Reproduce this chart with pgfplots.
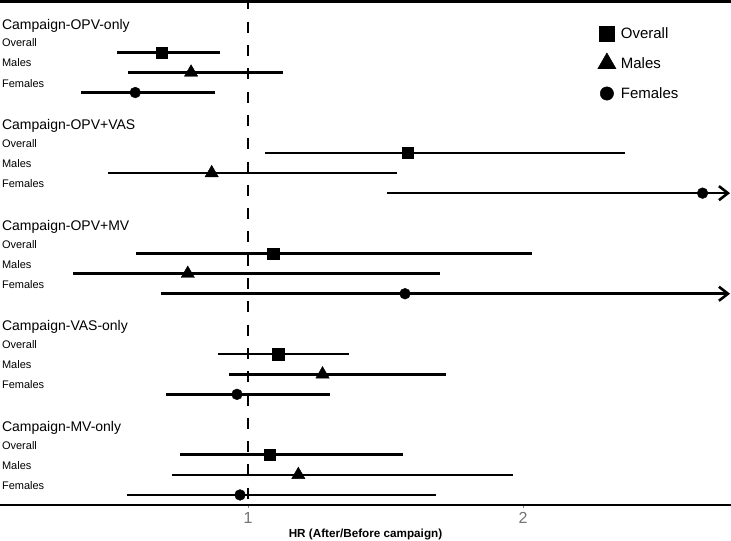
\documentclass[border=0pt]{standalone}
\usepackage{pgfplots}
\pgfplotsset{compat=1.18}
\usepackage{pgfplotstable}
\usepackage{fontspec}
\setmainfont{Liberation Sans}
\usetikzlibrary{arrows.meta}

% row = line index from top (group g: rows 5g+1, 5g+2, 5g+3)
\pgfplotstableread{
row hr lo hi
1 0.687 0.5225 0.898
6 1.581 1.063 2.371
11 1.092 0.593 2.032
16 1.110 0.892 1.368
21 1.080 0.753 1.564
}\overall
\pgfplotstableread{
row hr lo hi
2 0.793 0.5625 1.128
7 0.868 0.492 1.541
12 0.781 0.3625 1.700
17 1.271 0.931 1.720
22 1.183 0.7225 1.964
}\males
\pgfplotstableread{
row hr lo hi
3 0.590 0.393 0.880
8 2.653 1.504 2.720
13 1.571 0.683 2.720
18 0.960 0.702 1.299
23 0.971 0.560 1.685
}\females

\begin{document}
\begin{tikzpicture}
\begin{axis}[
  at={(0,0)}, anchor=south west,
  scale only axis, width=731bp, height=503.3bp,
  xmin=0.0982, xmax=2.7564,
  ymin=-1.515, ymax=23.5, y dir=reverse,
  axis line style={draw=none},
  xtick={1,2}, ytick=\empty, xtick pos=bottom,
  xtick style={draw=gray, line width=0.6bp},
  tick align=outside, major tick length=3bp,
  xticklabel style={font=\fontsize{16bp}{18bp}\selectfont, text=black!55, inner sep=0pt, yshift=-4.5bp},
  /pgf/number format/assume math mode=true,
  xlabel={HR (After/Before campaign)},
  xlabel style={font=\bfseries\fontsize{11.7bp}{13bp}\selectfont, at={(axis description cs:0.5,0)}, anchor=base, yshift=-32bp, inner sep=0pt},
  clip=false,
  legend style={draw=none, fill=none, at={(axis cs:2.271,-0.69)}, anchor=north west,
    inner xsep=0pt, inner ysep=0pt, column sep=4.8bp, row sep=0pt,
    nodes={inner sep=0pt, minimum height=30bp, font=\fontsize{15bp}{17bp}\selectfont}},
  legend cell align=left,
  legend image code/.code={\draw[#1] plot coordinates {(0bp,0bp)};},
]
\addlegendimage{mark=square*, mark size=7.3bp, black}
\addlegendentry{Overall}
\addlegendimage{mark=triangle*, mark size=10.6bp, black}
\addlegendentry{Males}
\addlegendimage{mark=*, mark size=6.7bp, black}
\addlegendentry{Females}

% reference line at HR = 1
\addplot[black, line width=2.7bp, dash pattern=on 11bp off 12.3bp, forget plot] coordinates {(1,-1.679) (1,23.5)};

% confidence intervals and point estimates
\addplot[black, only marks, mark=square*, mark size=5.6bp, forget plot,
  error bars/.cd, x dir=both, x explicit, error mark=none,
  error bar style={line width=2.6bp, black}]
  table[x=hr, y=row, x error plus expr=\thisrow{hi}-\thisrow{hr}, x error minus expr=\thisrow{hr}-\thisrow{lo}] {\overall};
\addplot[black, only marks, mark=triangle*, mark size=7.7bp, forget plot,
  error bars/.cd, x dir=both, x explicit, error mark=none,
  error bar style={line width=2.6bp, black}]
  table[x=hr, y=row, x error plus expr=\thisrow{hi}-\thisrow{hr}, x error minus expr=\thisrow{hr}-\thisrow{lo}] {\males};
% arrows for open upper limits
\addplot[black, line width=2.6bp, -{Straight Barb[length=9bp,width=14bp]}, forget plot] coordinates {(2.70,8) (2.753,8)};
\addplot[black, line width=2.6bp, -{Straight Barb[length=9bp,width=14bp]}, forget plot] coordinates {(2.70,13) (2.753,13)};
\addplot[black, only marks, mark=*, mark size=5.4bp, forget plot,
  error bars/.cd, x dir=both, x explicit, error mark=none,
  error bar style={line width=2.6bp, black}]
  table[x=hr, y=row, x error plus expr=\thisrow{hi}-\thisrow{hr}, x error minus expr=\thisrow{hr}-\thisrow{lo}] {\females};

% group titles
\node[anchor=base west, inner sep=0pt, font=\fontsize{14bp}{16bp}\selectfont] at (axis cs:0.105,-0.15) {Campaign-OPV-only};
\node[anchor=base west, inner sep=0pt, font=\fontsize{14bp}{16bp}\selectfont] at (axis cs:0.105,4.85) {Campaign-OPV+VAS};
\node[anchor=base west, inner sep=0pt, font=\fontsize{14bp}{16bp}\selectfont] at (axis cs:0.105,9.85) {Campaign-OPV+MV};
\node[anchor=base west, inner sep=0pt, font=\fontsize{14bp}{16bp}\selectfont] at (axis cs:0.105,14.85) {Campaign-VAS-only};
\node[anchor=base west, inner sep=0pt, font=\fontsize{14bp}{16bp}\selectfont] at (axis cs:0.105,19.85) {Campaign-MV-only};
% row labels
\pgfplotsinvokeforeach{0,1,2,3,4}{
  \node[anchor=base west, inner sep=0pt, font=\fontsize{11bp}{13bp}\selectfont] at (axis cs:0.105,{5*#1+1-0.27}) {Overall};
  \node[anchor=base west, inner sep=0pt, font=\fontsize{11bp}{13bp}\selectfont] at (axis cs:0.105,{5*#1+2-0.27}) {Males};
  \node[anchor=base west, inner sep=0pt, font=\fontsize{11bp}{13bp}\selectfont] at (axis cs:0.105,{5*#1+3-0.27}) {Females};
}
% top and bottom rules
\draw[black, line width=3.4bp] (axis description cs:0,1) -- (axis description cs:1,1);
\draw[black, line width=1.2bp] (axis description cs:0,0) -- (axis description cs:1,0);
\end{axis}
\pgfresetboundingbox
\path[use as bounding box] (0,-36bp) rectangle (731bp,505bp);
\end{tikzpicture}
\end{document}
